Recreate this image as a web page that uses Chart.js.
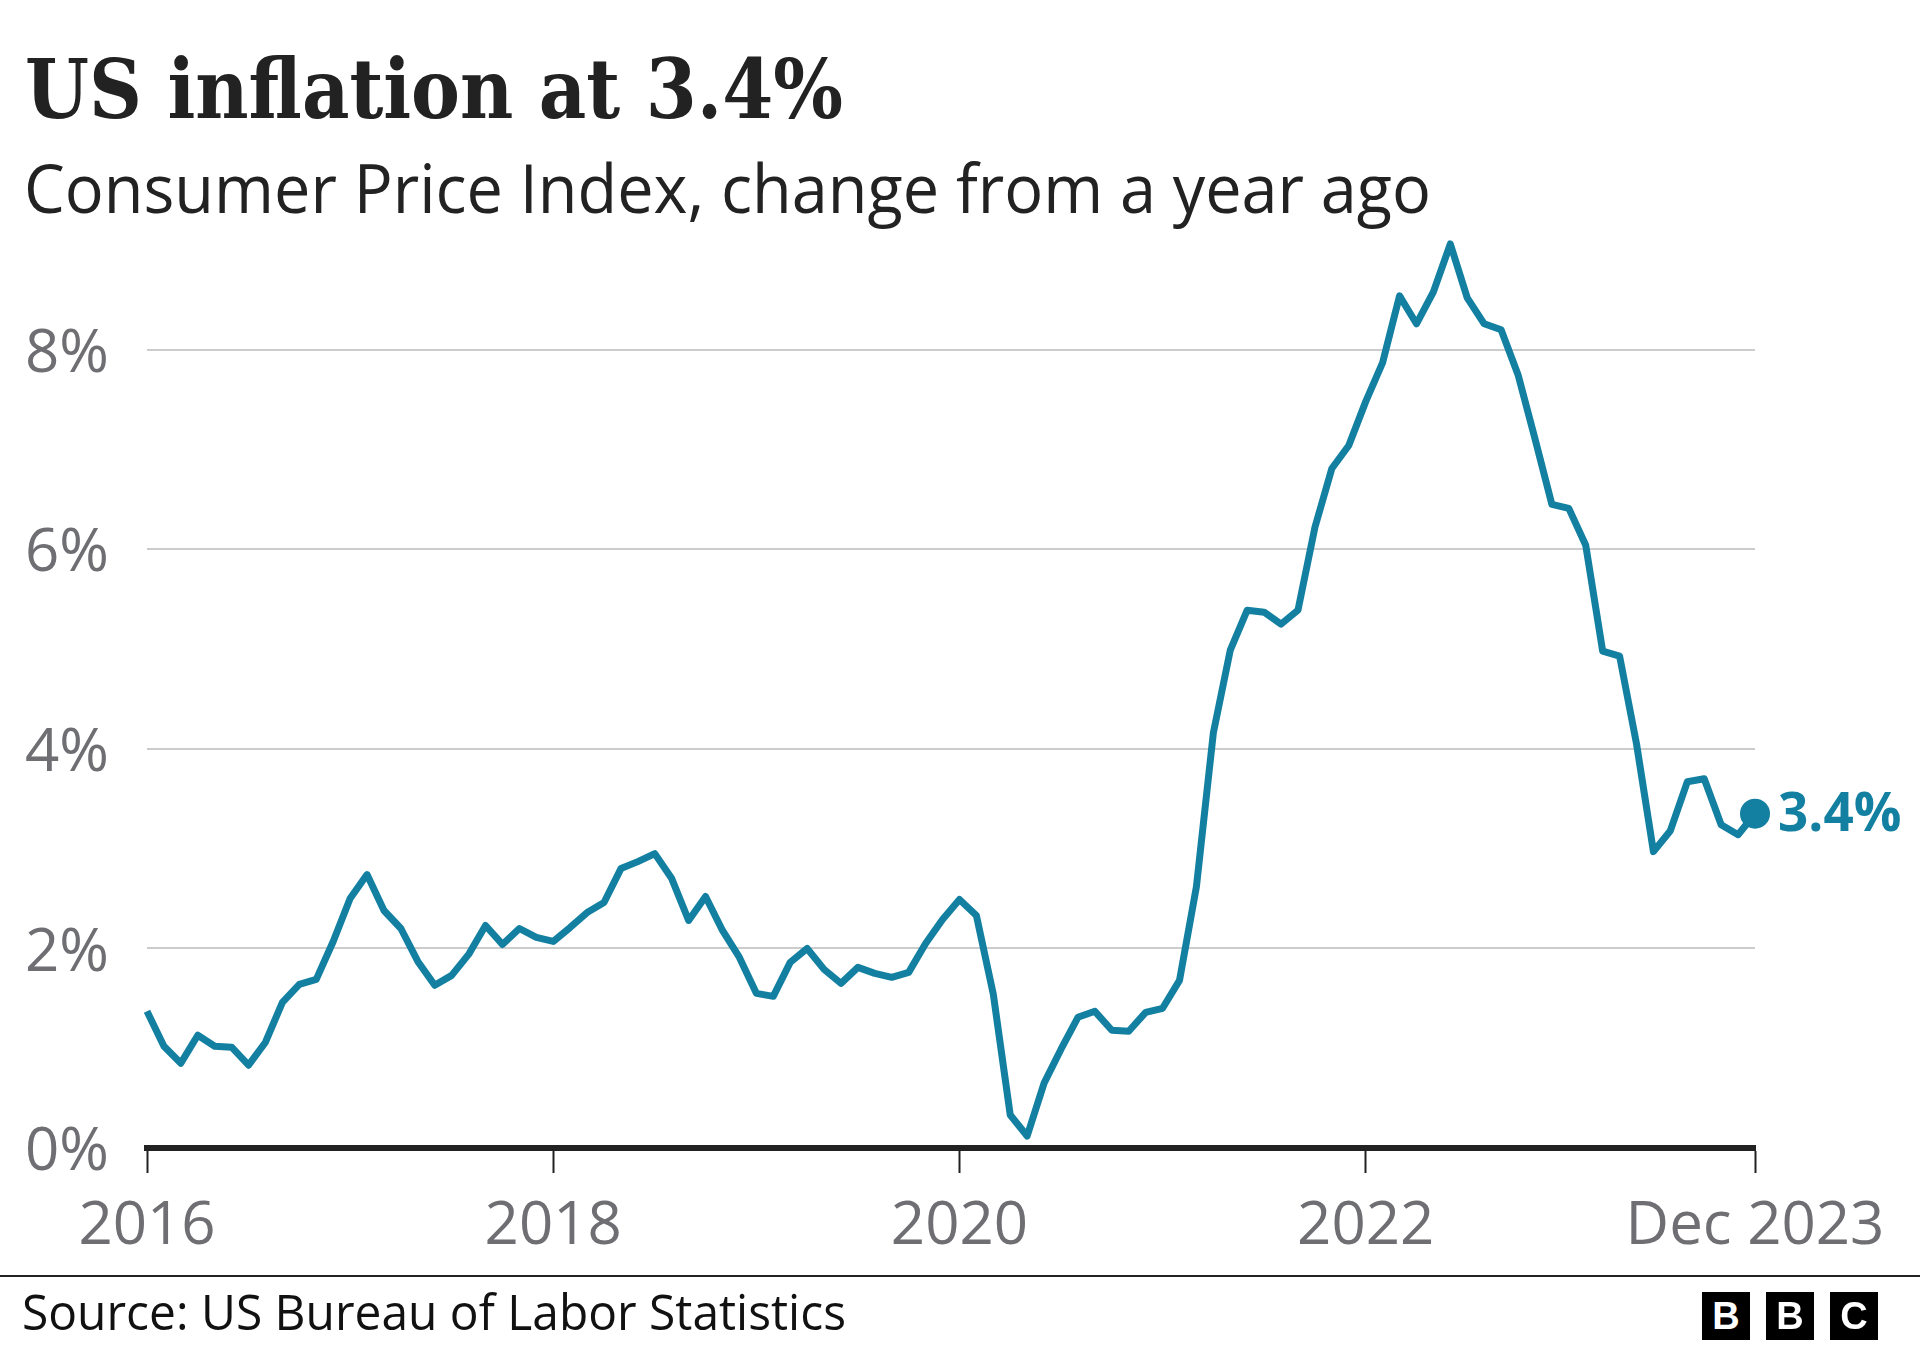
<!DOCTYPE html>
<html>
<head>
<meta charset="utf-8">
<script src="https://cdn.jsdelivr.net/npm/chart.js@4.4.1/dist/chart.umd.min.js"></script>
<style>
  html, body { margin:0; padding:0; background:#fff; width:1920px; height:1350px; overflow:hidden; position:relative; }
  #c { position:absolute; left:0; top:0; }
  .t { position:absolute; left:0; top:0; white-space:nowrap; transform-origin:0 0; line-height:1; }
  #title { font-family:"DejaVu Serif", serif; font-weight:bold; font-size:82px; color:#222; }
  #subtitle { font-family:"Open Sans", sans-serif; font-size:67px; color:#222; }
  #source { font-family:"Open Sans", sans-serif; font-size:50px; color:#111; }
  #rule { position:absolute; left:0; top:1275px; width:1920px; height:2px; background:#222; }
  .bbc { position:absolute; top:1292px; width:48px; height:48px; background:#000; color:#fff;
         font:bold 38px "Liberation Sans", sans-serif; text-align:center; line-height:48px; }
</style>
</head>
<body>
<canvas id="c" width="1920" height="1350"></canvas>
<div id="title" class="t">US inflation at 3.4%</div>
<div id="subtitle" class="t">Consumer Price Index, change from a year ago</div>
<div id="rule"></div>
<div id="source" class="t">Source: US Bureau of Labor Statistics</div>
<div class="bbc" style="left:1702px">B</div>
<div class="bbc" style="left:1766px">B</div>
<div class="bbc" style="left:1830px">C</div>
<script>
// ---- data ----
const years = [2016, 2017, 2018, 2019, 2020, 2021, 2022, 2023];
const monthNames = ['Jan','Feb','Mar','Apr','May','Jun','Jul','Aug','Sep','Oct','Nov','Dec'];
const months = [];
years.forEach(y => monthNames.forEach(m => months.push(m + ' ' + y)));

// CPI, % change from a year ago (Jan 2016 - Dec 2023)
const cpi2016 = [1.37, 1.02, 0.85, 1.13, 1.02, 1.01, 0.83, 1.06, 1.46, 1.64, 1.69, 2.07];
const cpi2017 = [2.50, 2.74, 2.38, 2.20, 1.87, 1.63, 1.73, 1.94, 2.23, 2.04, 2.20, 2.11];
const cpi2018 = [2.07, 2.21, 2.36, 2.46, 2.80, 2.87, 2.95, 2.70, 2.28, 2.52, 2.18, 1.91];
const cpi2019 = [1.55, 1.52, 1.86, 2.00, 1.79, 1.65, 1.81, 1.75, 1.71, 1.76, 2.05, 2.29];
const cpi2020 = [2.49, 2.33, 1.54, 0.33, 0.12, 0.65, 0.99, 1.31, 1.37, 1.18, 1.17, 1.36];
const cpi2021 = [1.40, 1.68, 2.62, 4.16, 4.99, 5.39, 5.37, 5.25, 5.39, 6.22, 6.81, 7.04];
const cpi2022 = [7.48, 7.87, 8.54, 8.26, 8.58, 9.06, 8.52, 8.26, 8.20, 7.75, 7.11, 6.45];
const cpi2023 = [6.41, 6.04, 4.98, 4.93, 4.05, 2.97, 3.18, 3.67, 3.70, 3.24, 3.14, 3.35];
const values = [].concat(cpi2016, cpi2017, cpi2018, cpi2019, cpi2020, cpi2021, cpi2022, cpi2023);

const xTickMonths = ['Jan 2016', 'Jan 2018', 'Jan 2020', 'Jan 2022', 'Dec 2023'];
const xTickLabels = ['2016', '2018', '2020', '2022', 'Dec 2023'];
const yTickValues = [0, 2, 4, 6, 8];
const endLabel = '3.4%';

// ---- styles ----
const TEAL = '#1380A1';
const GREY_TEXT = '#6e6e73';
const TICK_FONT = { family: 'Open Sans', size: 60 };

const lastLabelPlugin = {
  id: 'lastLabel',
  afterDatasetsDraw(chart) {
    const meta = chart.getDatasetMeta(0);
    const pt = meta.data[meta.data.length - 1];
    const ctx = chart.ctx;
    ctx.save();
    ctx.fillStyle = TEAL;
    ctx.font = 'bold 53px "Open Sans"';
    ctx.textAlign = 'left';
    ctx.textBaseline = 'middle';
    ctx.fillText(endLabel, pt.x + 23, pt.y + 2);
    ctx.restore();
  }
};

new Chart(document.getElementById('c'), {
  type: 'line',
  data: {
    labels: months,
    datasets: [{
      data: values,
      borderColor: TEAL,
      borderWidth: 7,
      borderJoinStyle: 'round',
      tension: 0,
      clip: false,
      pointRadius: ctx => ctx.dataIndex === values.length - 1 ? 15 : 0,
      pointHoverRadius: ctx => ctx.dataIndex === values.length - 1 ? 15 : 0,
      pointBackgroundColor: TEAL,
      pointBorderWidth: 0
    }]
  },
  options: {
    responsive: false,
    animation: false,
    events: [],
    layout: { padding: { left: 25, top: 230, right: 165, bottom: 92 } },
    plugins: { legend: { display: false }, tooltip: { enabled: false } },
    scales: {
      x: {
        type: 'category',
        offset: false,
        afterBuildTicks: s => { s.ticks = xTickMonths.map(m => ({ value: months.indexOf(m) })); },
        afterFit: s => { s.height = 110; },
        grid: { display: true, drawOnChartArea: false, drawTicks: true, tickLength: 25, tickColor: '#222', tickWidth: 2 },
        border: { display: true, color: '#222', width: 6 },
        ticks: {
          autoSkip: false, maxRotation: 0, padding: 18,
          color: GREY_TEXT, font: TICK_FONT,
          callback: v => xTickLabels[xTickMonths.indexOf(months[v])]
        }
      },
      y: {
        min: 0, max: 9.2,
        afterBuildTicks: s => { s.ticks = yTickValues.map(v => ({ value: v })); },
        afterFit: s => { s.width = 122; },
        grid: { color: '#cccccc', lineWidth: 2, drawTicks: false, tickLength: 0 },
        border: { display: false },
        ticks: {
          crossAlign: 'far', padding: 0, labelOffset: 5,
          color: GREY_TEXT, font: TICK_FONT,
          callback: v => v + '%'
        }
      }
    }
  },
  plugins: [lastLabelPlugin]
});

// ---- place html texts on their baselines and widths ----
function place(id, x, baseline, width) {
  const el = document.getElementById(id);
  let probe = el.querySelector('.probe');
  if (!probe) {
    probe = document.createElement('span');
    probe.className = 'probe';
    probe.style.cssText = 'display:inline-block;width:0;height:0;vertical-align:baseline';
    el.appendChild(probe);
  }
  el.style.transform = 'none';
  el.style.left = x + 'px';
  el.style.top = '0px';
  const nat = el.getBoundingClientRect().width;
  const b = probe.getBoundingClientRect().top;
  el.style.top = (baseline - b) + 'px';
  el.style.transform = 'scaleX(' + (width / nat) + ')';
}
function layoutTexts() {
  place('title', 25, 118, 818);
  place('subtitle', 24, 213, 1407);
  place('source', 22, 1330, 824);
}
layoutTexts();
if (document.fonts && document.fonts.ready) document.fonts.ready.then(layoutTexts);
</script>
</body>
</html>
